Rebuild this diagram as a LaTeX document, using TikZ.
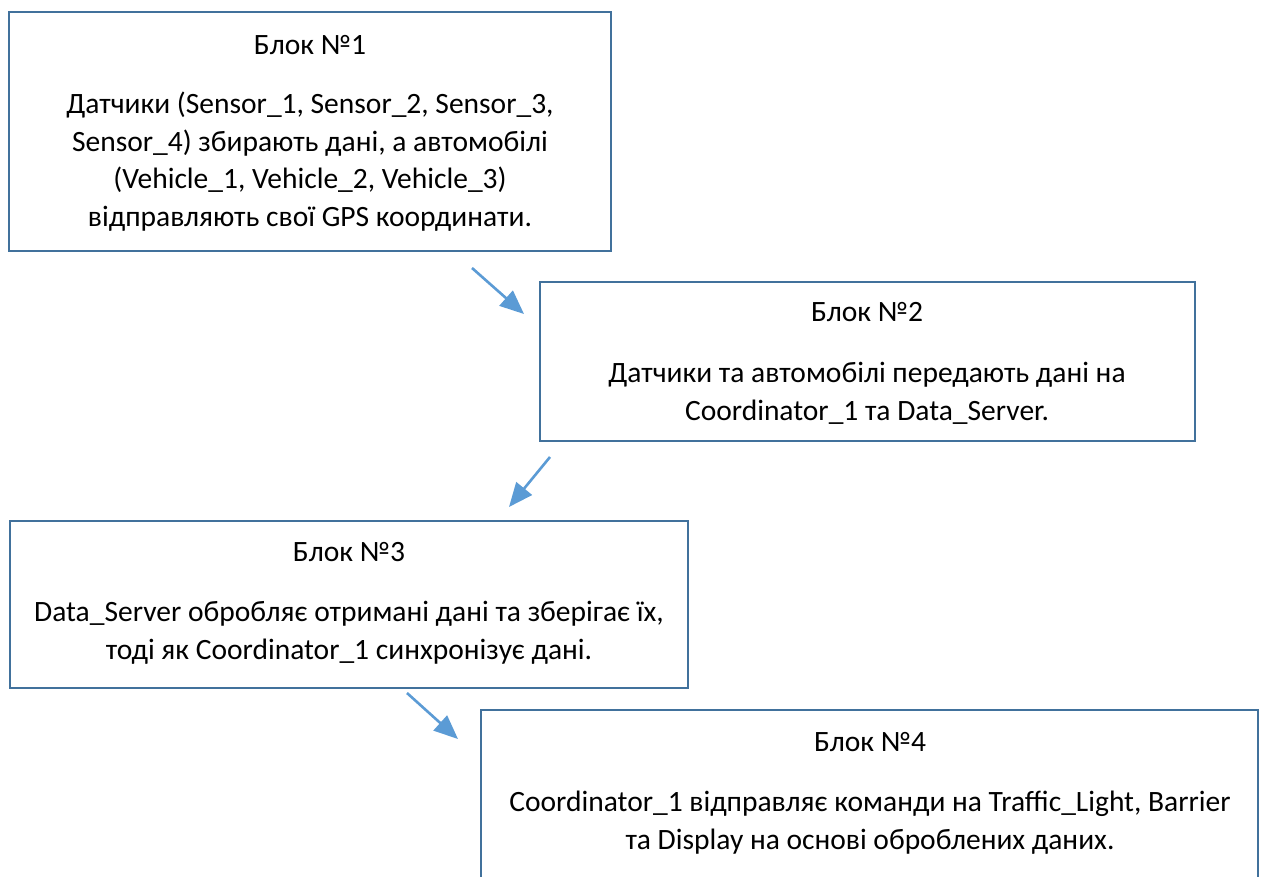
\documentclass[tikz,border=0pt]{standalone}
\usepackage{fontspec}
\setmainfont{Carlito}
\usetikzlibrary{arrows.meta}
\definecolor{frame}{HTML}{41719C}
\definecolor{link}{HTML}{5B9BD5}
\tikzset{
  blockbox/.style={draw=frame, line width=2.4pt, fill=none},
  txt/.style={font=\fontsize{29.5}{37.6}\selectfont, align=center, anchor=base, inner sep=0pt},
  flow/.style={draw=link, line width=2.6pt, -{Triangle[length=24pt,width=20pt]}}
}
\begin{document}
\begin{tikzpicture}[x=1pt,y=-1pt]
\useasboundingbox (0,0) rectangle (1264,877);
\clip (0,0) rectangle (1264,877);
\fill[white] (0,0) rectangle (1264,877);

% blocks
\draw[blockbox] (9,12) rectangle (611,251);
\draw[blockbox] (540,282) rectangle (1195,441);
\draw[blockbox] (10,521) rectangle (688,688);
\draw[blockbox] (481,710) rectangle (1258,900);

% block texts (base anchor = baseline of the last line)
\node[txt] (t1) at (310,54.5) {Блок №1};
\node[txt] (d1) at (310,226.5) {Датчики (Sensor\_1, Sensor\_2, Sensor\_3,\\Sensor\_4) збирають дані, а автомобілі\\(Vehicle\_1, Vehicle\_2, Vehicle\_3)\\відправляють свої GPS координати.};

\node[txt] (t2) at (867,321.5) {Блок №2};
\node[txt] (d2) at (867,420.5) {Датчики та автомобілі передають дані на\\Coordinator\_1 та Data\_Server.};

\node[txt] (t3) at (349,561.5) {Блок №3};
\node[txt] (d3) at (349,659.5) {Data\_Server обробляє отримані дані та зберігає їх,\\тоді як Coordinator\_1 синхронізує дані.};

\node[txt] (t4) at (870,751.5) {Блок №4};
\node[txt] (d4) at (870,849.5) {Coordinator\_1 відправляє команди на Traffic\_Light, Barrier\\та Display на основі оброблених даних.};

% connectors between blocks
\coordinate (a1s) at (472,268);
\coordinate (a1e) at (524,314);
\coordinate (a2s) at (550,457);
\coordinate (a2e) at (509,507);
\coordinate (a3s) at (407,693);
\coordinate (a3e) at (458,739);
\draw[flow] (a1s) -- (a1e);
\draw[flow] (a2s) -- (a2e);
\draw[flow] (a3s) -- (a3e);
\end{tikzpicture}
\end{document}
